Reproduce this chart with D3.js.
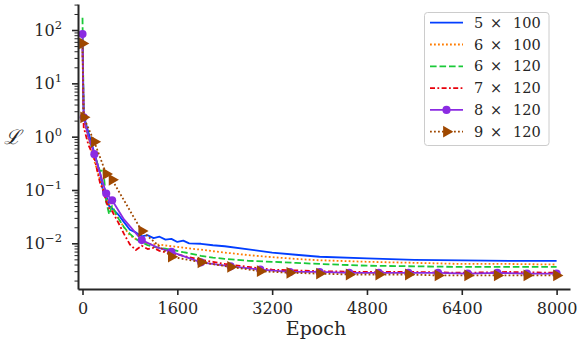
<!DOCTYPE html>
<html>
<head>
<meta charset="utf-8">
<script src="https://cdn.jsdelivr.net/npm/d3@7"></script>
<style>
  body { margin: 0; background: #fff; }
  svg text { font-family: "DejaVu Serif", serif; fill: #262626; }
</style>
</head>
<body>
<svg id="chart" width="582" height="345"></svg>
<script>
const labels = ['5 × 100', '6 × 100', '6 × 120', '7 × 120', '8 × 120', '9 × 120'];
const colors = ['#023eff', '#ff7c00', '#1ac938', '#e8000b', '#8b2be2', '#9f4800'];

const epochs = [0, 20, 100, 200, 300, 350, 400, 450, 500, 600, 700, 800, 900, 1000, 1100, 1200, 1300, 1400, 1500,
  1600, 1700, 1800, 2000, 2200, 2400, 2800, 3200, 3600, 4000, 4800, 5600, 6400, 7200, 8000];
const loss5x100 = [60, 2.5, 1.2, 0.5, 0.2, 0.09, 0.08, 0.05, 0.045, 0.035, 0.025, 0.018, 0.016, 0.0135, 0.0142, 0.0125,
  0.0133, 0.0117, 0.0121, 0.0106, 0.0112, 0.0100, 0.0098, 0.0092, 0.0088, 0.0077, 0.0067, 0.0061, 0.0056, 0.0052,
  0.0049, 0.0048, 0.0047, 0.0047];
const loss6x100 = [40, 2.0, 0.9, 0.35, 0.15, 0.1, 0.07, 0.055, 0.045, 0.03, 0.02, 0.014, 0.012, 0.0105, 0.0098, 0.0096,
  0.0094, 0.0091, 0.0088, 0.0086, 0.0083, 0.008, 0.0076, 0.0071, 0.0067, 0.006, 0.0055, 0.0051, 0.0048, 0.0045,
  0.0043, 0.0041, 0.0041, 0.004];
const loss6x120 = [170, 2.5, 1.0, 0.45, 0.22, 0.25, 0.06, 0.035, 0.05, 0.03, 0.02, 0.015, 0.012, 0.0105, 0.0092, 0.0086,
  0.0082, 0.0079, 0.0076, 0.0072, 0.0068, 0.0065, 0.0058, 0.0054, 0.0051, 0.0047, 0.0045, 0.0043, 0.0041, 0.0038,
  0.0037, 0.0036, 0.0036, 0.0036];
const loss7x120 = [60, 1.5, 0.7, 0.4, 0.13, 0.1, 0.06, 0.045, 0.04, 0.025, 0.015, 0.0095, 0.0075, 0.009, 0.0078, 0.0082,
  0.0072, 0.0068, 0.0066, 0.0062, 0.0058, 0.0055, 0.0049, 0.0045, 0.0041, 0.0036, 0.0032, 0.0031, 0.003, 0.0029,
  0.0029, 0.0028, 0.0029, 0.0028];

const epochs8x120 = [0, 20, 100, 200, 300, 400, 500, 700, 1000, 1250, 1500, 2000, 2500, 3000, 3500, 4000, 4500, 5000,
  5500, 6000, 6500, 7000, 7500, 8000];
const loss8x120 = [84, 2.3, 1.0, 0.47, 0.2, 0.086, 0.064, 0.028, 0.0115, 0.0085, 0.0069, 0.0044, 0.0037, 0.0032, 0.0029,
  0.0029, 0.0028, 0.0028, 0.0028, 0.0028, 0.0027, 0.0028, 0.0027, 0.0027];

const epochs9x120 = [0, 20, 200, 400, 500, 1000, 1500, 2000, 2500, 3000, 3500, 4000, 4500, 5000, 5500, 6000, 6500, 7000,
  7500, 8000];
const loss9x120 = [56, 2.3, 0.8, 0.2, 0.155, 0.017, 0.0056, 0.0044, 0.0036, 0.003, 0.0028, 0.0027, 0.0026, 0.0026, 0.0026,
  0.0025, 0.0025, 0.0025, 0.0025, 0.0025];

const markerEpochs = [0, 20, 200, 400, 500, 1000, 1500, 2000, 2500, 3000, 3500, 4000, 4500, 5000, 5500, 6000, 6500, 7000,
  7500, 8000];

const xTicks = [0, 1600, 3200, 4800, 6400, 8000];
const yTickExps = [-2, -1, 0, 1, 2];

const series = [
  { name: labels[0], color: colors[0], x: epochs, y: loss5x100, dash: null, marker: null },
  { name: labels[1], color: colors[1], x: epochs, y: loss6x100, dash: '1.8,2.2', marker: null },
  { name: labels[2], color: colors[2], x: epochs, y: loss6x120, dash: '6.6,2.9', marker: null },
  { name: labels[3], color: colors[3], x: epochs, y: loss7x120, dash: '5,2.4,1.8,2.4', marker: null },
  { name: labels[4], color: colors[4], x: epochs8x120, y: loss8x120, dash: null, marker: 'circle' },
  { name: labels[5], color: colors[5], x: epochs9x120, y: loss9x120, dash: '1.8,2.2', marker: 'triangle' },
];

const svg = d3.select('#chart');
const plotLeft = 78, plotRight = 570, plotTop = 4, plotBottom = 289;
const ink = '#262626';

const x = d3.scaleLinear().domain([-76, 8226]).range([plotLeft, plotRight]);
const y = d3.scaleLog().domain([Math.pow(10, 2.488), Math.pow(10, -2.857)]).range([plotTop, plotBottom]);

svg.append('defs').append('clipPath').attr('id', 'plot')
  .append('rect').attr('x', plotLeft).attr('y', plotTop)
  .attr('width', plotRight - plotLeft).attr('height', plotBottom - plotTop);

const line = d3.line().x(d => x(d[0])).y(d => y(d[1]));

const symbolPath = (type) => type === 'circle'
  ? d3.symbol().type(d3.symbolCircle).size(52)()
  : d3.symbol().type(d3.symbolTriangle).size(60)();

const plot = svg.append('g').attr('clip-path', 'url(#plot)');
series.forEach(s => {
  const pts = s.x.map((e, i) => [e, s.y[i]]);
  plot.append('path')
    .datum(pts)
    .attr('d', line)
    .attr('fill', 'none')
    .attr('stroke', s.color)
    .attr('stroke-width', 1.8)
    .attr('stroke-dasharray', s.dash)
    .attr('stroke-linejoin', 'round');
  if (s.marker) {
    plot.selectAll(null)
      .data(pts.filter(p => markerEpochs.includes(p[0])))
      .enter()
      .append('path')
      .attr('d', symbolPath(s.marker))
      .attr('transform', d => `translate(${x(d[0])},${y(d[1])})` + (s.marker === 'triangle' ? ' rotate(90)' : ''))
      .attr('fill', s.color);
  }
});

// y axis: minor then major ticks
const minor = [];
for (let e = -3; e <= 2; e++) for (let k = 2; k <= 9; k++) {
  const v = k * Math.pow(10, e);
  if (v >= y.domain()[1] && v <= y.domain()[0]) minor.push(v);
}
const yMinor = svg.append('g').attr('transform', `translate(${plotLeft},0)`)
  .call(d3.axisLeft(y).tickValues(minor).tickSize(3.5).tickSizeOuter(0).tickFormat(''));
yMinor.select('.domain').remove();
yMinor.selectAll('line').attr('stroke', ink).attr('stroke-width', 1);

const yMajor = svg.append('g').attr('transform', `translate(${plotLeft},0)`)
  .call(d3.axisLeft(y).tickValues(yTickExps.map(e => Math.pow(10, e))).tickSize(6).tickSizeOuter(0).tickFormat(''));
yMajor.select('.domain').attr('stroke', ink).attr('stroke-width', 2);
yMajor.selectAll('line').attr('stroke', ink).attr('stroke-width', 1.6);

yTickExps.forEach(e => {
  const t = svg.append('text')
    .attr('x', 62)
    .attr('y', y(Math.pow(10, e)) + 6)
    .attr('text-anchor', 'end')
    .style('font-size', '16px');
  t.append('tspan').text('10');
  t.append('tspan').attr('dy', -7).style('font-size', '11.5px').text(e < 0 ? '\u2212' + Math.abs(e) : String(e));
});

// x axis
const xAxis = svg.append('g').attr('transform', `translate(0,${plotBottom})`)
  .call(d3.axisBottom(x).tickValues(xTicks).tickSize(6).tickSizeOuter(0).tickPadding(8).tickFormat(d3.format('d')));
xAxis.select('.domain').attr('stroke', ink).attr('stroke-width', 2);
xAxis.selectAll('line').attr('stroke', ink).attr('stroke-width', 1.6);
xAxis.selectAll('text').style('font-size', '16px').attr('fill', ink);

svg.append('text').attr('x', 316).attr('y', 335).attr('text-anchor', 'middle')
  .style('font-size', '19px').text('Epoch');
svg.append('text').attr('x', 12).attr('y', 144).attr('text-anchor', 'middle')
  .style('font-size', '20px').style('font-style', 'italic').text('\u2112');

// legend
const lg = svg.append('g');
lg.append('rect').attr('x', 424.5).attr('y', 12.5).attr('width', 124.5).attr('height', 133).attr('rx', 3)
  .attr('fill', '#fff').attr('fill-opacity', 0.8).attr('stroke', '#cccccc').attr('stroke-width', 1);
series.forEach((s, i) => {
  const cy = 22.7 + i * 21.8;
  lg.append('line').attr('x1', 430).attr('x2', 463).attr('y1', cy).attr('y2', cy)
    .attr('stroke', s.color).attr('stroke-width', 1.8).attr('stroke-dasharray', s.dash);
  if (s.marker) {
    lg.append('path').attr('d', symbolPath(s.marker))
      .attr('transform', `translate(446.5,${cy})` + (s.marker === 'triangle' ? ' rotate(90)' : ''))
      .attr('fill', s.color);
  }
  const parts = s.name.split(' × ');
  const t = lg.append('text').attr('y', cy + 5).style('font-size', '14.5px');
  t.append('tspan').attr('x', 474).text(parts[0]);
  t.append('tspan').attr('x', 496).attr('text-anchor', 'middle').text('×');
  t.append('tspan').attr('x', 513).attr('text-anchor', 'start').text(parts[1]);
});
</script>
</body>
</html>
